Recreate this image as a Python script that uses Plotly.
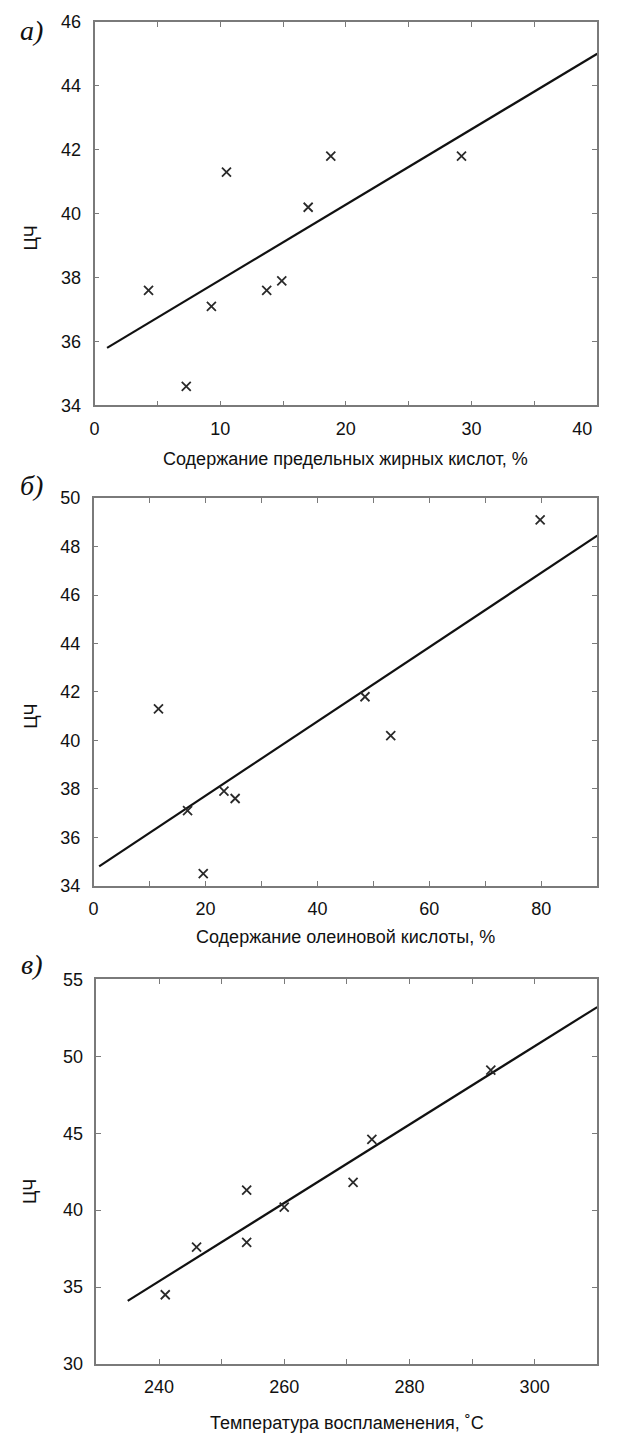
import plotly.graph_objects as go

W, H = 627, 1443

# ---- data ----
sat_acid = [4.3, 7.3, 9.3, 10.5, 13.7, 14.9, 17.0, 18.8, 29.2]
cn_a = [37.6, 34.6, 37.1, 41.3, 37.6, 37.9, 40.2, 41.8, 41.8]
fit_a_x = [1.0, 40.0]
fit_a_y = [35.8, 45.0]

oleic = [11.6, 16.8, 19.6, 23.3, 25.3, 48.5, 53.1, 79.8]
cn_b = [41.3, 37.1, 34.5, 37.9, 37.6, 41.8, 40.2, 49.1]
fit_b_x = [1.0, 90.0]
fit_b_y = [34.8, 48.45]

flash_t = [241, 246, 254, 254, 260, 271, 274, 293]
cn_c = [34.5, 37.6, 41.3, 37.9, 40.2, 41.8, 44.6, 49.1]
fit_c_x = [235.0, 310.0]
fit_c_y = [34.1, 53.2]

xticks_a = [0, 10, 20, 30, 40]
xticktext_a = ["0", "10", "20", "30", "40\u2007\u2007\u2007"]
xticks_b = [0, 20, 40, 60, 80]
xticks_c = [240, 260, 280, 300]
yticks_a = [34, 36, 38, 40, 42, 44, 46]
yticks_b = [34, 36, 38, 40, 42, 44, 46, 48, 50]
yticks_c = [30, 35, 40, 45, 50, 55]

xtitles = ["Содержание предельных жирных кислот, %",
           "Содержание олеиновой кислоты, %",
           "Температура воспламенения, ˚C"]
panel_labels = ["а)", "б)", "в)"]
ytitle = "ЦЧ"

# ---- layout geometry (pixels) ----
FONT = "Liberation Sans Narrow, Arial Narrow, Liberation Sans, Arial, sans-serif"
GREY = "#7a7a7a"
boxes = [  # left, right, top, bottom
    (94, 622, 12, 401),
    (93, 622, 495, 888),
    (96, 622, 983, 1373),
]

def px(x):
    return x / W

def py(y):
    return 1 - y / H

fig = go.Figure()

series = [
    (sat_acid, cn_a, fit_a_x, fit_a_y),
    (oleic, cn_b, fit_b_x, fit_b_y),
    (flash_t, cn_c, fit_c_x, fit_c_y),
]
for i, (xs, ys, fx, fy) in enumerate(series):
    sfx = "" if i == 0 else str(i + 1)
    fig.add_trace(go.Scatter(x=fx, y=fy, mode="lines",
                             line=dict(color="#111111", width=2.2),
                             xaxis="x" + sfx, yaxis="y" + sfx, showlegend=False))
    fig.add_trace(go.Scatter(x=xs, y=ys, mode="markers",
                             marker=dict(symbol="x-thin-open", size=9, color="#2a2a2a",
                                         line=dict(color="#2a2a2a", width=1.8)),
                             xaxis="x" + sfx, yaxis="y" + sfx, showlegend=False))

common = dict(showline=True, linecolor=GREY, linewidth=1.5, mirror="ticks",
              ticks="inside", ticklen=5, tickcolor=GREY, tickwidth=1,
              showgrid=False, zeroline=False, ticklabeloverflow="allow",
              tickfont=dict(family=FONT, size=18, color="#111111"))

xcfg = [
    dict(range=[0, 40], tickvals=xticks_a, ticktext=xticktext_a,
         minor=dict(dtick=5, tick0=0, ticks="inside", ticklen=5, tickcolor=GREY)),
    dict(range=[0, 90], tickvals=xticks_b,
         minor=dict(dtick=10, tick0=0, ticks="inside", ticklen=5, tickcolor=GREY)),
    dict(range=[230, 310], tickvals=xticks_c,
         minor=dict(dtick=10, tick0=230, ticks="inside", ticklen=5, tickcolor=GREY)),
]
ycfg = [
    dict(range=[34, 46], tickvals=yticks_a),
    dict(range=[34, 50], tickvals=yticks_b),
    dict(range=[30, 55], tickvals=yticks_c),
]

lay = {}
for i, (l, r, t, b) in enumerate(boxes):
    sfx = "" if i == 0 else str(i + 1)
    lay["xaxis" + sfx] = dict(common, domain=[px(l), px(r)], anchor="y" + sfx,
                              ticklabelstandoff=6, **xcfg[i])
    lay["yaxis" + sfx] = dict(common, domain=[py(b), py(t)], anchor="x" + sfx,
                              ticklabelstandoff=8, **ycfg[i])

annotations = []
xtitle_y = [455, 940, 1433]
ytitle_y = [231, 716, 1198]
plabel_y = [21, 482, 968]
for i, (l, r, t, b) in enumerate(boxes):
    annotations.append(dict(text=xtitles[i], x=px((l + r) / 2), y=py(xtitle_y[i]),
                            xref="paper", yref="paper", showarrow=False,
                            xanchor="center", yanchor="middle",
                            font=dict(family=FONT, size=18, color="#111111")))
    annotations.append(dict(text=ytitle, x=px(27), y=py(ytitle_y[i]),
                            xref="paper", yref="paper", showarrow=False,
                            textangle=-90, xanchor="center", yanchor="middle",
                            font=dict(family=FONT, size=18, color="#111111")))
    annotations.append(dict(text="<i>" + panel_labels[i] + "</i>", x=px(28), y=py(plabel_y[i]),
                            xref="paper", yref="paper", showarrow=False,
                            xanchor="center", yanchor="middle",
                            font=dict(family="Liberation Serif, Times New Roman, serif",
                                      size=28, color="#111111")))

fig.update_layout(width=W, height=H, margin=dict(l=0, r=0, t=0, b=0),
                  paper_bgcolor="white", plot_bgcolor="white",
                  annotations=annotations, **lay)

fig.write_html("out.html", config={"displayModeBar": False},
               post_script="document.body.style.margin='0';document.body.style.overflow='hidden';")
